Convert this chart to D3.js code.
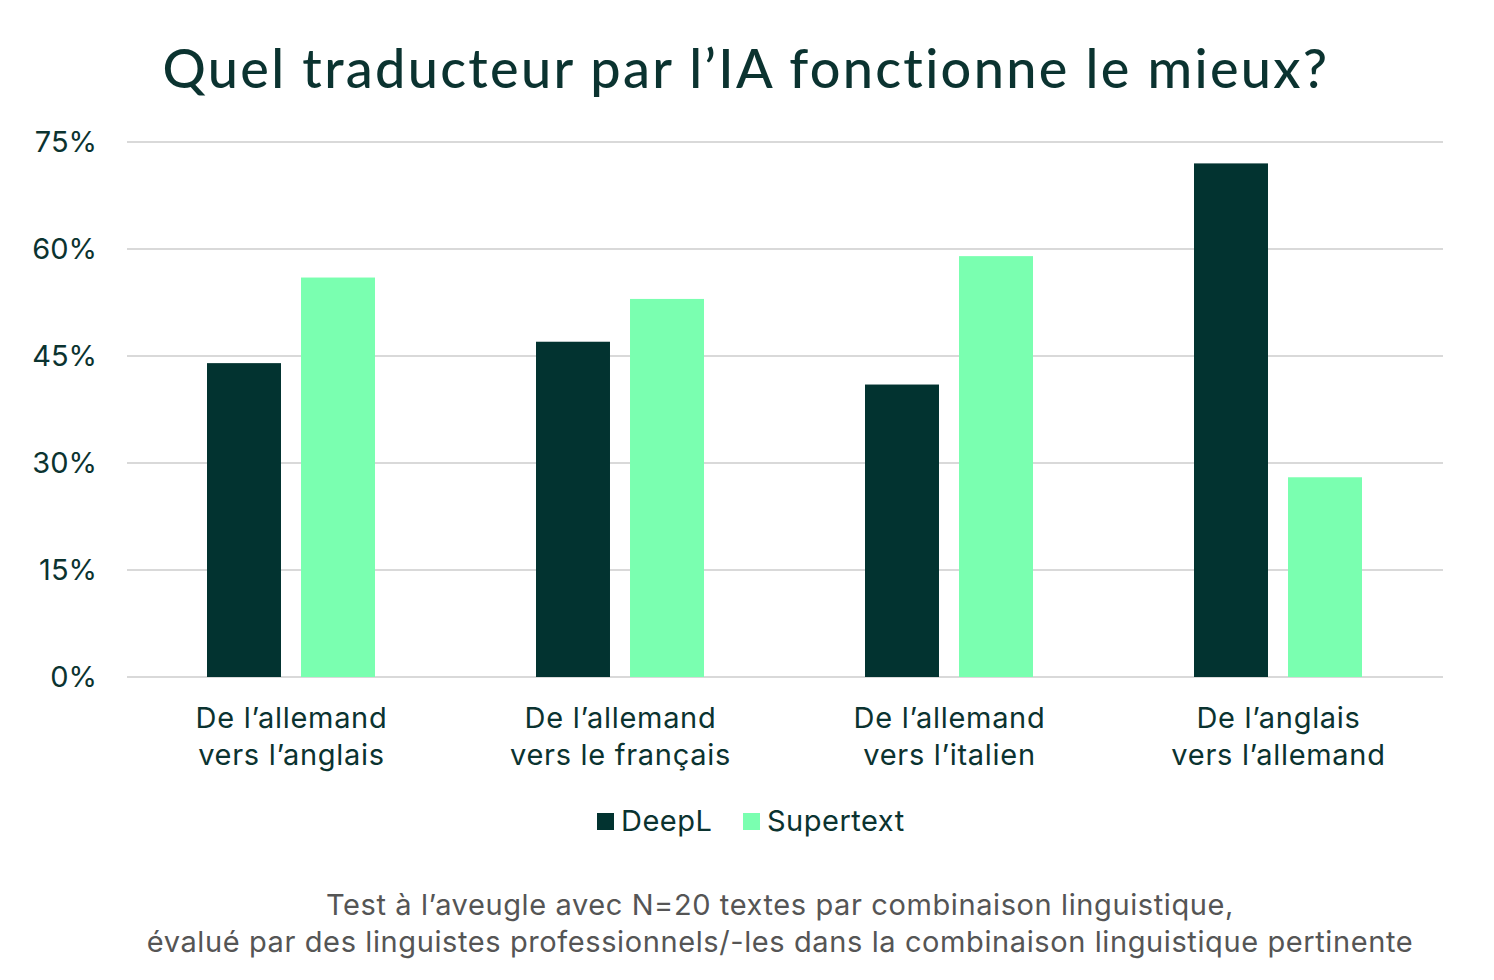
<!DOCTYPE html>
<html>
<head>
<meta charset="utf-8">
<script src="https://cdn.jsdelivr.net/npm/d3@7"></script>
<style>
  body { margin: 0; background: #fff; }
  svg { display: block; }
</style>
</head>
<body>
<div id="chart-area"></div>
<script>
// data
var categories = [
  ["De l\u2019allemand", "vers l\u2019anglais"],
  ["De l\u2019allemand", "vers le fran\u00e7ais"],
  ["De l\u2019allemand", "vers l\u2019italien"],
  ["De l\u2019anglais", "vers l\u2019allemand"]
];
var seriesNames = ["DeepL", "Supertext"];
var deeplValues = [44, 47, 41, 72];
var supertextValues = [56, 53, 59, 28];
var yTicks = [0, 15, 30, 45, 60, 75];

var width = 1494, height = 980;
var margin = {top: 142, left: 127, right: 51, bottom: 303};
var plotW = width - margin.left - margin.right;
var plotH = height - margin.top - margin.bottom;

var dark = "#023330", light = "#7affb0", textCol = "#0b3330";
var font = "Inter, 'Noto Sans', sans-serif";

var svg = d3.select("#chart-area")
  .append("svg")
  .attr("width", width)
  .attr("height", height);

svg.append("text")
  .attr("x", 746)
  .attr("y", 88)
  .attr("text-anchor", "middle")
  .attr("font-family", "Lato, Inter, sans-serif")
  .attr("font-size", "54px")
  .attr("font-weight", 500)
  .attr("letter-spacing", "2.3px")
  .attr("fill", textCol)
  .text("Quel traducteur par l\u2019IA fonctionne le mieux?");

var g = svg.append("g")
  .attr("transform", "translate(" + margin.left + "," + margin.top + ")");

var y = d3.scaleLinear().domain([0, 75]).range([plotH, 0]);
var x = d3.scaleBand().domain(d3.range(categories.length)).range([0, plotW]);
var xs = d3.scaleBand().domain(seriesNames).range([80, 248]).paddingInner(0.213);

// gridlines
g.selectAll(".grid")
  .data(yTicks)
  .enter().append("line")
  .attr("x1", 0).attr("x2", plotW)
  .attr("y1", d => y(d)).attr("y2", d => y(d))
  .attr("stroke", "#d9d9d9")
  .attr("stroke-width", 2);

// y tick labels
var yAxis = g.append("g")
  .call(d3.axisLeft(y).tickValues(yTicks).tickFormat(d => d + "%").tickSize(0).tickPadding(30));
yAxis.select(".domain").remove();
yAxis.selectAll("text")
  .attr("font-family", font)
  .attr("font-size", "29px")
  .attr("fill", textCol);

var rows = categories.map((c, i) => ({i: i, vals: [deeplValues[i], supertextValues[i]]}));

var groups = g.selectAll(".grp")
  .data(rows)
  .enter().append("g")
  .attr("transform", d => "translate(" + x(d.i) + ",0)");

groups.selectAll("rect")
  .data(d => d.vals.map((v, k) => ({name: seriesNames[k], v: v})))
  .enter().append("rect")
  .attr("x", d => xs(d.name))
  .attr("width", xs.bandwidth())
  .attr("y", d => y(d.v))
  .attr("height", d => plotH - y(d.v))
  .attr("fill", d => d.name === "DeepL" ? dark : light);

// category labels
groups.each(function(d) {
  var t = d3.select(this).append("text")
    .attr("text-anchor", "middle")
    .attr("font-family", font)
    .attr("font-size", "29px")
    .attr("letter-spacing", "0.7px")
    .attr("fill", textCol);
  categories[d.i].forEach((line, k) => {
    t.append("tspan")
      .attr("x", x.bandwidth() / 2)
      .attr("y", plotH + 51 + k * 37)
      .text(line);
  });
});

// legend
var legendX = [597, 743];
var legend = svg.selectAll(".leg")
  .data(seriesNames)
  .enter().append("g")
  .attr("transform", (d, i) => "translate(" + legendX[i] + ",813)");
legend.append("rect")
  .attr("width", 17).attr("height", 17)
  .attr("fill", d => d === "DeepL" ? dark : light);
legend.append("text")
  .attr("x", 24).attr("y", 18)
  .attr("font-family", font)
  .attr("font-size", "29px")
  .attr("letter-spacing", "0.5px")
  .attr("fill", textCol)
  .text(d => d);

// footnote
var notes = ["Test \u00e0 l\u2019aveugle avec N=20 textes par combinaison linguistique,",
  "\u00e9valu\u00e9 par des linguistes professionnels/-les dans la combinaison linguistique pertinente"];
svg.selectAll(".note")
  .data(notes)
  .enter().append("text")
  .attr("x", 780)
  .attr("y", (d, i) => 915 + i * 37)
  .attr("text-anchor", "middle")
  .attr("font-family", font)
  .attr("font-size", "29px")
  .attr("letter-spacing", "0.6px")
  .attr("fill", "#555555")
  .text(d => d);
</script>
</body>
</html>
